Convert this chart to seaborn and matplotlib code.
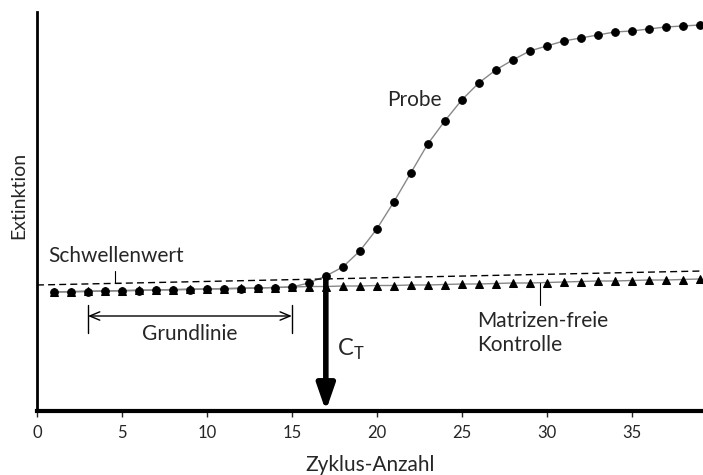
import numpy as np
import pandas as pd
import matplotlib
matplotlib.use("Agg")
import matplotlib.pyplot as plt
import seaborn as sns

sns.set_theme(style="white")
plt.rcParams["font.family"] = ["Lato", "DejaVu Sans"]

# --- Daten ---
zyklus = list(range(1, 40))
probe = [119, 119, 119.5, 120, 120, 120.5, 121, 121, 121.5, 122, 122, 122.5, 123, 123.5, 124,
         128, 135, 144, 160, 182, 209, 238, 267, 290, 311, 328, 341, 351, 360, 365,
         370, 373, 376, 379, 380, 382, 384, 385, 386]
kontrolle = [119, 119.5, 120, 120, 120.5, 121, 121, 121.5, 122, 122, 122.5, 123, 123, 123.5, 124,
             124.5, 124.5, 125, 125, 125.5, 125.5, 126, 126, 126.5, 127, 127, 127.5, 128, 128, 128.5,
             129, 129.5, 130, 130, 130.5, 131, 131, 131.5, 132]
schwelle_x = [0, 39.2]
schwelle_y = [126, 140]
ct = 17
grund_start, grund_end = 3, 15
xticks = [0, 5, 10, 15, 20, 25, 30, 35]

df = pd.DataFrame({"zyklus": zyklus, "probe": probe, "kontrolle": kontrolle})

fig = plt.figure(figsize=(7.03, 4.75), dpi=100)
ax = fig.add_axes([37 / 703, 64 / 475, 666 / 703, 399 / 475])

# Kontrolle (Dreiecke) und Probe (Punkte)
sns.lineplot(data=df, x="zyklus", y="kontrolle", ax=ax, color="#888888", linewidth=1,
             marker="^", markersize=6, markerfacecolor="black", markeredgecolor="black")
sns.lineplot(data=df, x="zyklus", y="probe", ax=ax, color="#888888", linewidth=1,
             marker="o", markersize=5.5, markerfacecolor="black", markeredgecolor="black")
ax.plot(schwelle_x, schwelle_y, color="black", linestyle=(0, (5, 3)), linewidth=1)

ax.set_xlim(0, 39.2)
ax.set_ylim(0, 399)
ax.set_xticks(xticks)
ax.set_yticks([])
ax.tick_params(axis="x", direction="out", length=4, width=1, labelsize=12, pad=6, bottom=True)
for s in ["top", "right"]:
    ax.spines[s].set_visible(False)
ax.spines["bottom"].set_linewidth(3)
ax.spines["left"].set_linewidth(2)
ax.spines["bottom"].set_color("black")
ax.spines["left"].set_color("black")
ax.set_xlabel("Zyklus-Anzahl", fontsize=15, va="center")
ax.xaxis.set_label_coords(0.5, -0.135)
ax.set_ylabel("Extinktion", fontsize=14)
ax.yaxis.set_label_coords(-0.014, 0.54)

# C_T Pfeil
ax.annotate("", xy=(ct, 0), xytext=(ct, 135),
            arrowprops=dict(arrowstyle="-|>,head_width=0.45,head_length=1.3", lw=4, color="black",
                            shrinkA=0, shrinkB=0))
ax.text(17.65, 62, r"C$_\mathregular{T}$", fontsize=17, ha="left", va="center")

# Grundlinie
ax.annotate("", xy=(grund_start, 95), xytext=(grund_end, 95),
            arrowprops=dict(arrowstyle="<->,head_width=0.25,head_length=0.6", lw=1, color="black",
                            shrinkA=0, shrinkB=0))
ax.plot([grund_start, grund_start], [78, 106], color="black", lw=1)
ax.plot([grund_end, grund_end], [78, 106], color="black", lw=1)
ax.text(9, 77, "Grundlinie", fontsize=15, ha="center", va="center")

# Beschriftungen
ax.text(23.8, 311, "Probe", fontsize=15, ha="right", va="center")
ax.text(0.65, 155, "Schwellenwert", fontsize=15, ha="left", va="center")
ax.plot([4.6, 4.6, 4.9], [140, 128, 128], color="black", lw=0.8)
ax.text(25.9, 78, "Matrizen-freie\nKontrolle", fontsize=15, ha="left", va="center",
        linespacing=1.25)
ax.plot([29.6, 29.6], [106, 128], color="black", lw=0.8)

fig.savefig("out.png", dpi=100)
